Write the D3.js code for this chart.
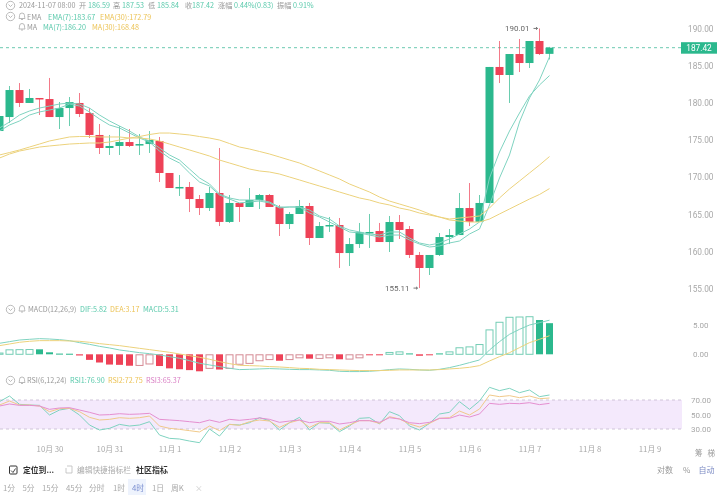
<!DOCTYPE html>
<html lang="zh"><head><meta charset="utf-8">
<style>html,body{margin:0;padding:0;background:#fff;overflow:hidden}svg{display:block;font-family:"Noto Sans CJK SC","Noto Sans",sans-serif;filter:blur(0.4px)}</style>
<script src="https://cdn.jsdelivr.net/npm/d3@7/dist/d3.min.js"></script>
</head><body><svg id="c" width="720" height="495"></svg>
<script>
const opens=[176.22,178.10,181.73,179.99,180.66,180.52,178.10,179.31,179.99,178.64,175.69,173.94,174.21,174.74,174.34,174.47,174.88,170.58,168.56,168.70,167.08,165.87,167.89,164.00,166.55,166.01,166.95,167.62,166.01,163.72,165.07,166.14,161.84,163.45,163.59,159.82,161.03,162.51,162.78,161.30,163.99,163.05,159.56,157.81,159.56,161.97,162.24,165.87,164.00,166.55,184.83,183.75,186.57,185.36,188.32,186.59];
const highs=[178.78,182.27,182.67,181.87,180.66,183.35,180.12,180.79,181.33,179.31,177.16,175.69,176.89,176.49,175.82,176.22,175.42,170.58,170.31,169.37,167.62,168.70,173.94,167.62,166.55,168.56,167.75,167.75,166.28,165.33,166.95,166.55,163.99,164.66,164.53,161.84,163.86,165.07,163.86,164.80,164.93,163.45,159.96,159.56,162.51,163.05,167.89,169.23,167.62,184.83,188.32,186.57,188.59,188.32,190.01,187.53];
const lows=[175.95,177.30,179.45,179.99,178.37,178.10,176.49,176.89,178.10,175.28,173.13,173.00,173.00,174.07,173.00,173.27,169.37,168.56,167.49,165.33,164.93,165.47,163.45,163.86,164.00,166.01,165.74,166.01,162.11,163.05,165.07,160.90,161.84,162.65,157.81,158.08,160.50,160.50,161.30,159.96,161.71,159.15,155.11,156.87,159.42,161.03,162.24,163.45,164.00,166.55,182.67,179.99,184.15,184.69,186.44,185.84];
const closes=[178.24,181.73,179.99,180.66,180.46,178.10,179.31,180.12,178.51,175.69,173.94,174.21,174.74,174.21,174.47,175.01,170.58,168.56,168.70,167.08,165.87,167.89,164.00,166.55,166.01,166.95,167.62,166.01,163.72,165.07,166.14,161.84,163.45,163.59,159.82,161.03,162.65,162.65,161.30,163.99,162.92,159.56,157.81,159.56,161.97,162.24,165.87,164.00,166.55,184.83,183.75,186.57,185.36,188.32,186.57,187.42];
const ema7=[176.63,177.43,178.37,178.91,179.31,179.58,179.85,179.99,179.85,179.31,178.37,177.57,176.89,176.22,175.42,174.88,173.94,173.00,172.32,171.11,169.91,169.10,167.75,167.22,166.95,166.95,166.95,166.68,166.01,166.01,166.01,165.60,164.80,164.39,163.45,162.92,162.65,162.38,162.24,162.65,162.65,161.84,161.17,160.90,161.17,161.71,162.38,163.05,163.99,169.91,173.40,176.22,178.64,180.93,182.41,183.67];
const ma7=[176.22,177.03,177.57,178.37,178.78,179.05,179.31,179.85,179.58,178.78,177.84,177.03,176.63,175.95,175.28,174.74,173.53,172.59,171.92,170.58,169.37,168.83,167.62,167.08,166.55,166.68,166.81,166.55,165.87,166.01,166.01,165.20,164.66,163.99,163.32,162.65,162.51,162.24,161.97,162.24,162.24,161.57,161.03,160.63,160.77,161.17,161.44,162.38,163.05,166.28,169.91,173.00,177.43,180.66,183.08,186.20];
const ema30=[173.00,173.33,173.67,174.07,174.47,174.88,175.15,175.42,175.48,175.48,175.42,175.42,175.42,175.28,175.28,175.15,174.88,174.47,174.07,173.67,173.27,172.86,172.32,171.92,171.52,171.11,170.85,170.71,170.44,170.04,169.64,169.23,168.83,168.43,168.02,167.62,167.22,166.95,166.55,166.28,165.87,165.60,165.20,164.93,164.66,164.39,164.53,164.66,164.80,165.87,167.22,168.43,169.50,170.58,171.65,172.79];
const ma30=[172.59,173.13,173.53,173.80,174.07,174.21,174.34,174.47,174.54,174.61,174.61,174.74,175.01,175.28,175.48,175.75,175.95,175.95,175.82,175.69,175.48,175.28,175.01,174.54,174.07,173.80,173.47,173.13,172.73,172.32,171.92,171.38,170.85,170.31,169.77,169.10,168.56,168.02,167.35,166.81,166.41,166.01,165.60,165.07,164.66,164.26,164.12,163.99,163.99,164.39,165.07,165.74,166.41,167.08,167.69,168.48];
const macd=[0.30,0.85,0.88,0.90,0.85,0.34,0.12,0.10,-0.20,-0.95,-1.40,-1.75,-1.80,-1.95,-1.90,-1.65,-2.00,-2.40,-2.55,-2.70,-2.90,-2.40,-2.60,-2.40,-1.70,-1.55,-1.10,-0.90,-1.10,-0.90,-0.60,-0.75,-0.70,-0.60,-0.85,-0.82,-0.60,-0.15,-0.16,0.40,0.50,0.15,-0.25,-0.12,0.15,0.50,1.20,1.35,1.75,4.25,5.55,6.40,6.45,6.50,5.85,5.31];
const dif=[1.88,2.16,2.44,2.56,2.67,2.61,2.50,2.33,1.99,1.70,1.36,1.08,0.74,0.51,0.28,0.11,-0.11,-0.40,-0.68,-1.08,-1.53,-1.82,-2.10,-2.39,-2.61,-2.56,-2.50,-2.44,-2.50,-2.56,-2.61,-2.61,-2.67,-2.73,-2.90,-2.95,-2.95,-2.90,-2.78,-2.61,-2.50,-2.56,-2.67,-2.73,-2.56,-2.27,-1.88,-1.42,-0.97,0.74,2.16,3.41,4.26,5.00,5.40,5.82];
const dea=[1.48,1.76,2.05,2.22,2.33,2.33,2.33,2.27,2.22,2.05,1.82,1.65,1.48,1.25,1.02,0.80,0.57,0.34,0.06,-0.23,-0.51,-0.85,-1.25,-1.59,-1.88,-1.93,-1.99,-2.10,-2.16,-2.27,-2.39,-2.44,-2.56,-2.61,-2.67,-2.73,-2.78,-2.78,-2.78,-2.73,-2.67,-2.67,-2.67,-2.67,-2.61,-2.50,-2.39,-2.22,-1.93,-1.14,-0.40,0.28,1.14,1.99,2.56,3.17];
const rsi1=[67.7,75.5,64.0,63.1,62.6,49.3,56.2,58.5,49.3,35.5,28.6,30.9,36.4,34.1,35.5,40.1,21.7,17.1,16.2,13.4,11.1,30.0,20.3,36.4,35.5,38.7,45.6,41.5,28.6,38.7,46.1,28.6,38.7,37.8,26.3,34.1,44.7,45.6,36.9,53.9,48.4,34.1,28.6,37.8,50.7,53.0,67.7,57.1,68.6,87.5,82.9,86.1,80.1,83.8,74.6,76.9];
const rsi2=[63.1,68.6,63.1,63.1,61.7,53.9,58.0,58.5,53.9,46.1,42.4,43.3,45.6,44.7,45.6,47.9,34.1,30.9,29.5,27.7,25.9,34.1,27.7,36.4,35.1,40.1,42.4,41.0,32.3,38.7,42.4,32.3,38.7,38.7,28.6,35.5,41.5,41.5,37.8,47.0,43.8,36.9,32.8,37.8,44.7,45.6,54.8,49.3,57.6,76.9,74.6,76.0,73.2,75.5,71.8,72.75];
const rsi3=[61.7,64.5,62.6,62.6,61.7,57.1,59.0,59.4,56.2,53.0,49.3,49.8,51.1,50.2,50.7,51.6,43.3,42.4,41.5,40.1,38.7,42.4,39.2,43.3,42.0,43.3,45.2,43.3,39.2,41.0,42.4,38.7,40.6,40.6,36.9,38.7,41.5,41.5,39.2,45.6,43.8,38.7,37.4,39.2,44.7,44.7,49.3,46.5,50.7,65.4,64.0,65.4,64.9,66.3,63.6,65.37];
const priceTicks=[155,160,165,170,175,180,185,190];
const macdTicks=[0,5];
const rsiTicks=[30,50,70];
const dayIndex=[5,11,17,23,29,35,41,47,53,59,65];
const dayLabels=["10月 30","10月 31","11月 1","11月 2","11月 3","11月 4","11月 5","11月 6","11月 7","11月 8","11月 9"];
const periods=["1分","5分","15分","45分","分时","1时","4时","1日","周K"];

const GREEN="#2bb88d",RED="#ee4257",TEAL="#7fd3c0",YEL="#ecd27c",PINK="#e58fd0",GREY="#a8a8a8";
const svg=d3.select("#c");
const x=d3.scaleLinear().domain([0,55]).range([-0.5,549.5]);
const y=d3.scaleLinear().domain([155,190]).range([288.9,28.5]);
const ym=d3.scaleLinear().domain([0,5]).range([354.3,325]);
const yr=d3.scaleLinear().domain([30,70]).range([429,400]);
const paneW=682,idx=d3.range(opens.length);
const lineOf=(sc,arr)=>d3.line().x((d,i)=>x(i)).y(d=>sc(d))(arr);

/* axes */
const axisFont=(size)=>g=>{g.select(".domain").remove();g.selectAll("line").remove();g.selectAll("text").attr("fill",GREY).attr("font-size",size).attr("font-family","Roboto,sans-serif")};
svg.append("g").attr("transform","translate(688,0)").call(d3.axisRight(y).tickValues(priceTicks).tickSize(0).tickPadding(0).tickFormat(d3.format(".2f"))).call(axisFont(8.3));
svg.append("g").attr("transform","translate(693,0)").call(d3.axisRight(ym).tickValues(macdTicks).tickSize(0).tickPadding(0).tickFormat(d3.format(".2f"))).call(axisFont(8));
svg.append("g").attr("transform","translate(691,0)").call(d3.axisRight(yr).tickValues(rsiTicks).tickSize(0).tickPadding(0).tickFormat(d3.format(".2f"))).call(axisFont(8));
svg.append("g").attr("transform","translate(0,446.5)").call(d3.axisBottom(x).tickValues(dayIndex).tickSize(0).tickPadding(0).tickFormat((d,i)=>dayLabels[i])).call(g=>{axisFont(7.8)(g);g.selectAll("text").attr("font-family",'"Noto Sans CJK SC",sans-serif')});

/* last price line */
const last=closes[closes.length-1];
svg.append("line").attr("x1",0).attr("x2",720).attr("y1",y(last)).attr("y2",y(last)).attr("stroke","#6cc9b0").attr("stroke-width",1).attr("stroke-dasharray","3 3");
svg.append("rect").attr("x",681).attr("y",y(last)-5.5).attr("width",36).attr("height",11.5).attr("fill",GREEN);
svg.append("text").attr("x",699).attr("y",y(last)+3).attr("text-anchor","middle").attr("fill","#fff").attr("font-size",8.3).attr("font-family","Roboto,sans-serif").text(last.toFixed(2));

/* candles */
const cg=svg.append("g");
cg.selectAll("line").data(idx).join("line").attr("x1",i=>x(i)).attr("x2",i=>x(i)).attr("y1",i=>y(highs[i])).attr("y2",i=>y(lows[i]))
  .attr("stroke",i=>closes[i]>=opens[i]?GREEN:RED).attr("stroke-width",1).attr("stroke-opacity",.7);
cg.selectAll("rect").data(idx).join("rect").attr("x",i=>x(i)-4).attr("width",8)
  .attr("y",i=>y(Math.max(opens[i],closes[i]))).attr("height",i=>Math.max(1.5,Math.abs(y(opens[i])-y(closes[i]))))
  .attr("fill",i=>closes[i]>=opens[i]?GREEN:RED);

/* MAs */
[[ema7,TEAL],[ma7,TEAL],[ema30,YEL],[ma30,YEL]].forEach(([a,c])=>svg.append("path").attr("d",lineOf(y,a)).attr("fill","none").attr("stroke",c).attr("stroke-width",1));

/* hi/lo notes */
const note=(i,v)=>{
  const px=x(i),py=y(v);
  svg.append("text").attr("x",px-10).attr("y",py+2.8).attr("text-anchor","end").attr("fill","#666").attr("font-size",8).attr("font-family","Roboto,sans-serif").text(v.toFixed(2));
  svg.append("path").attr("d",`M${px-6},${py}H${px-2}M${px-3.5},${py-1.3}L${px-2},${py}L${px-3.5},${py+1.3}`).attr("fill","none").attr("stroke","#555").attr("stroke-width",.8);
};
note(highs.indexOf(d3.max(highs)),d3.max(highs));
note(lows.indexOf(d3.min(lows)),d3.min(lows));

/* MACD */
const mg=svg.append("g");
mg.selectAll("rect").data(idx).join("rect").each(function(i){
  const v=macd[i],up=v>=0,hollow=i>0&&v>macd[i-1]&&Math.abs(v)>0.3||i==0,col=up?GREEN:RED;
  const top=Math.min(ym(v),ym(0)),h=Math.abs(ym(v)-ym(0));
  d3.select(this).attr("x",x(i)-3.5).attr("width",7).attr("y",top+(hollow?.5:0)).attr("height",Math.max(1,h-(hollow?.5:0)))
   .attr("fill",hollow?"#fff":col).attr("stroke",hollow?(up?"#74cdb5":"#d58a94"):"none").attr("stroke-width",1);
});
svg.append("path").attr("d",lineOf(ym,dif)).attr("fill","none").attr("stroke",TEAL).attr("stroke-width",1);
svg.append("path").attr("d",lineOf(ym,dea)).attr("fill","none").attr("stroke",YEL).attr("stroke-width",1);

/* RSI */
svg.append("rect").attr("x",0).attr("width",paneW).attr("y",yr(70)).attr("height",yr(30)-yr(70)).attr("fill","#f4e9fc");
[70,30].forEach(v=>svg.append("line").attr("x1",0).attr("x2",paneW).attr("y1",yr(v)).attr("y2",yr(v)).attr("stroke","#cfc4d8").attr("stroke-dasharray","3 3"));
[[rsi1,TEAL],[rsi2,"#f0c98a"],[rsi3,PINK]].forEach(([a,c])=>svg.append("path").attr("d",lineOf(yr,a)).attr("fill","none").attr("stroke",c).attr("stroke-width",1));

/* header texts */
const txt=(tx,ty,s,c,size=7.2)=>svg.append("text").attr("x",tx).attr("y",ty).attr("fill",c).attr("font-size",size).text(s);
const GV="#59c9ab",GL="#999",YT="#ecc356",PT="#d97fc4";
[[19,"2024-11-07 08:00",GL],[79,"开",GL],[88,"186.59",GV],[113,"高",GL],[122,"187.53",GV],[148,"低",GL],[157,"185.84",GV],[185,"收",GL],[192,"187.42",GV],[218,"涨幅",GL],[234,"0.44%(0.83)",GV],[277,"振幅",GL],[293,"0.91%",GV]].forEach(d=>txt(d[0],8,d[1],d[2]));
txt(27,19.5,"EMA",GL);txt(48,19.5,"EMA(7):183.67",GV);txt(100,19.5,"EMA(30):172.79",YT);
txt(27,30,"MA",GL);txt(43,30,"MA(7):186.20",GV);txt(92,30,"MA(30):168.48",YT);
txt(28,312,"MACD(12,26,9)",GL);txt(80,312,"DIF:5.82",GV);txt(110,312,"DEA:3.17",YT);txt(143,312,"MACD:5.31",GV);
txt(27,383,"RSI(6,12,24)",GL);txt(70,383,"RSI1:76.90",GV);txt(108,383,"RSI2:72.75",YT);txt(146,383,"RSI3:65.37",PT);

const chevron=(cx,cy)=>{svg.append("circle").attr("cx",cx).attr("cy",cy).attr("r",4.2).attr("fill","none").attr("stroke","#aaa").attr("stroke-width",.8);
 svg.append("path").attr("d",`M${cx-2},${cy-1}L${cx},${cy+1}L${cx+2},${cy-1}`).attr("fill","none").attr("stroke","#aaa").attr("stroke-width",.8)};
const bell=(cx,cy)=>svg.append("path").attr("d",`M${cx-3},${cy+2}Q${cx-2.5},${cy+1} ${cx-2.5},${cy-1}A2.5,2.5 0 0 1 ${cx+2.5},${cy-1}Q${cx+2.5},${cy+1} ${cx+3},${cy+2}ZM${cx-1},${cy+3}H${cx+1}`).attr("fill","none").attr("stroke","#aaa").attr("stroke-width",.8);
chevron(10.5,5.5);chevron(10.5,16.5);chevron(10.5,309.5);chevron(10.5,380.5);
bell(22,16.5);bell(22,27);bell(22,309);bell(22,380.5);

/* bottom bar */
svg.append("rect").attr("x",9.5).attr("y",466).attr("width",7.5).attr("height",8).attr("rx",1).attr("fill","none").attr("stroke","#333").attr("stroke-width",1);
svg.append("path").attr("d","M11,470.5L13,472.5L15.5,468.5").attr("fill","none").attr("stroke","#333").attr("stroke-width",.9);
svg.append("text").attr("x",23).attr("y",473).attr("fill","#333").attr("font-size",7.8).attr("font-weight",700).text("定位到...");
svg.append("path").attr("d","M67,466H72V473H66V468").attr("fill","none").attr("stroke","#bbb").attr("stroke-width",.8);
svg.append("text").attr("x",77).attr("y",473).attr("fill","#aaa").attr("font-size",7.7).text("编辑快捷指标栏");
svg.append("text").attr("x",136).attr("y",473).attr("fill","#333").attr("font-size",8).attr("font-weight",700).text("社区指标");
svg.append("text").attr("x",657).attr("y",472.5).attr("fill","#999").attr("font-size",8).text("对数");
svg.append("text").attr("x",683).attr("y",472.5).attr("fill","#999").attr("font-size",8).text("%");
svg.append("text").attr("x",698.5).attr("y",472.5).attr("fill","#7d8cc4").attr("font-size",8).text("自动");
svg.append("text").attr("x",695).attr("y",455.5).attr("fill","#999").attr("font-size",7.5).text("筹");
svg.append("text").attr("x",707.5).attr("y",455.5).attr("fill","#999").attr("font-size",7.5).text("梯");
svg.append("rect").attr("x",128).attr("y",479).attr("width",18).attr("height",16).attr("fill","#eef3fd");
const px=[3,22.5,42,66,89,113,132,152,171];
svg.append("g").selectAll("text").data(periods).join("text").attr("x",(d,i)=>px[i]).attr("y",490.5).attr("font-size",7.8)
 .attr("fill",d=>d==="4时"?"#7b8fd0":"#aaa").text(d=>d);
svg.append("text").attr("x",195).attr("y",490.5).attr("font-size",7.8).attr("fill","#ccc").text("×");
</script></body></html>
